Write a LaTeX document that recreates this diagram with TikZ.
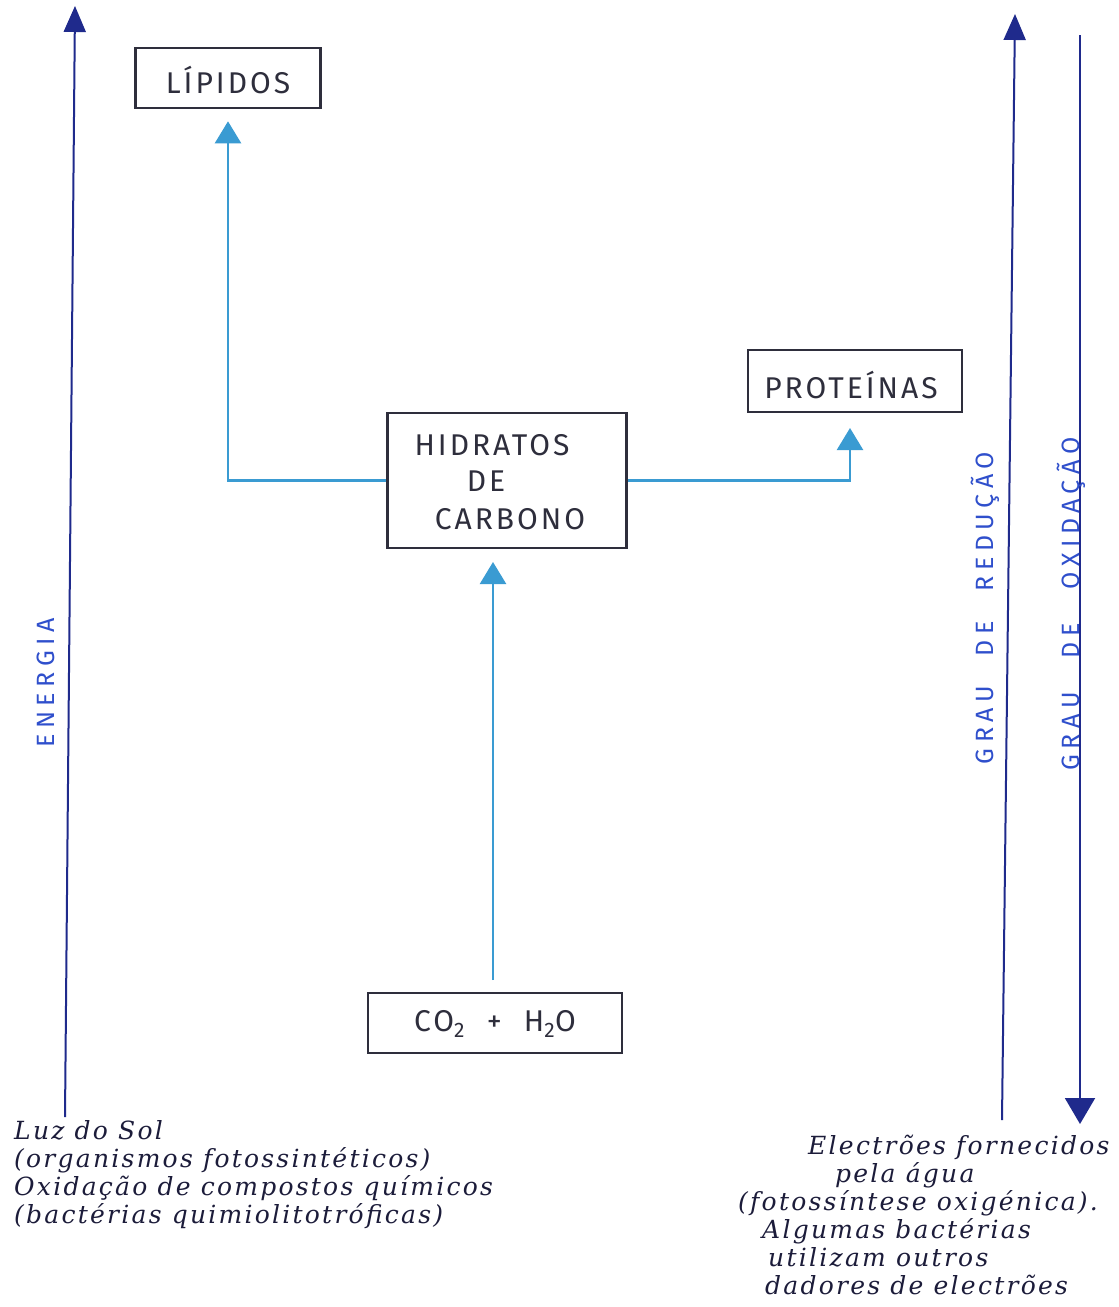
\documentclass[tikz,border=0pt]{standalone}
\usepackage{fontspec}
\setmainfont{Fira Sans}
\newfontfamily\boxfont[LetterSpace=10]{Fira Sans}
\newfontfamily\axisfont[LetterSpace=22]{Fira Sans}
\newfontfamily\notefont[LetterSpace=9]{DejaVu Serif}[ItalicFont={DejaVu Serif Italic}]
\usetikzlibrary{arrows.meta}
\definecolor{inkbox}{HTML}{2E2E3C}
\definecolor{inknavy}{HTML}{1F2A8C}
\definecolor{inkblue}{HTML}{2F4FCC}
\definecolor{inklight}{HTML}{3A9BD2}
\definecolor{inknote}{HTML}{1C1C3A}
\tikzset{
  stage/.style={draw=inkbox, line width=2.6pt, inner sep=0pt, fill=white},
  stagetext/.style={text=inkbox, font=\boxfont\fontsize{30}{32}\selectfont, inner sep=0pt},
  flow/.style={draw=inklight, line width=2.4pt, -{Triangle[width=26pt,length=22pt]}},
  axis/.style={draw=inknavy, line width=2pt},
  axislabel/.style={text=inkblue, font=\axisfont\fontsize{25}{26}\selectfont, rotate=90, inner sep=0pt},
  note/.style={text=inknote, font=\notefont\itshape\fontsize{25}{28}\selectfont, inner sep=0pt, align=left}
}
\begin{document}
\begin{tikzpicture}[x=1pt,y=-1pt]
\useasboundingbox[fill=white] (0,0) rectangle (1119,1307);

% boxes
\node[stage, minimum width=185pt, minimum height=60pt] (lipidos) at (228,78) {};
\node[stagetext] (lipidosT) at (228,80) {LÍPIDOS};

\node[stage, minimum width=239pt, minimum height=135pt] (hc) at (507,480.5) {};
\node[stagetext] (hc1) at (492,445) {HIDRATOS};
\node[stagetext] (hc2) at (486,481) {DE};
\node[stagetext] (hc3) at (510,519) {CARBONO};

\node[stage, minimum width=214pt, minimum height=62pt] (prot) at (855,381) {};
\node[stagetext] (protT) at (851,385) {PROTEÍNAS};

\node[stage, minimum width=254pt, minimum height=60pt] (co2) at (495,1023) {};
\node[stagetext] (co2T) at (495,1024) {CO\textsubscript{2}\hspace{22pt}+\hspace{22pt}H\textsubscript{2}O};

% flows between the carbon compounds
\coordinate (co2top) at (493,980);
\coordinate (hcbot) at (493,548);
\draw[flow, shorten >=14pt] (co2top) -- (hcbot);
\draw[flow, shorten >=12pt] (hc.west) -| (lipidos.south);
\coordinate (protin) at (850,412);
\draw[flow, shorten >=16pt] (hc.east) -| (protin);

% energy axis
\coordinate (eBot) at (65,1117);
\coordinate (eTop) at (75,6);
\draw[axis, -{Triangle[width=22pt,length=26pt]}] (eBot) -- (eTop);
\node[axislabel] (energia) at (46,683) {ENERGIA};

% reduction / oxidation axes
\coordinate (rBot) at (1002,1120);
\coordinate (rTop) at (1015,14);
\draw[axis, -{Triangle[width=22pt,length=26pt]}] (rBot) -- (rTop);
\node[axislabel] (reducao) at (985,608) {GRAU\hspace{30pt}DE\hspace{30pt}REDUÇÃO};

\coordinate (oTop) at (1080,35);
\coordinate (oBot) at (1080,1124);
\draw[axis, -{Triangle[width=30pt,length=26pt]}] (oTop) -- (oBot);
\node[axislabel] (oxidacao) at (1071,604) {GRAU\hspace{34pt}DE\hspace{34pt}OXIDAÇÃO};

% notes
\node[note, anchor=north west] (fontes) at (14,1120)
  {Luz do Sol\\(organismos fotossintéticos)\\Oxidação de compostos químicos\\(bactérias quimiolitotróficas)};
\node[note, anchor=north west] (dadores) at (738,1135)
  {\hspace{70pt}Electrões fornecidos\\\hspace{97pt}pela água\\(fotossíntese oxigénica).\\\hspace{24pt}Algumas bactérias\\\hspace{30pt}utilizam outros\\\hspace{27pt}dadores de electrões};
\end{tikzpicture}
\end{document}
